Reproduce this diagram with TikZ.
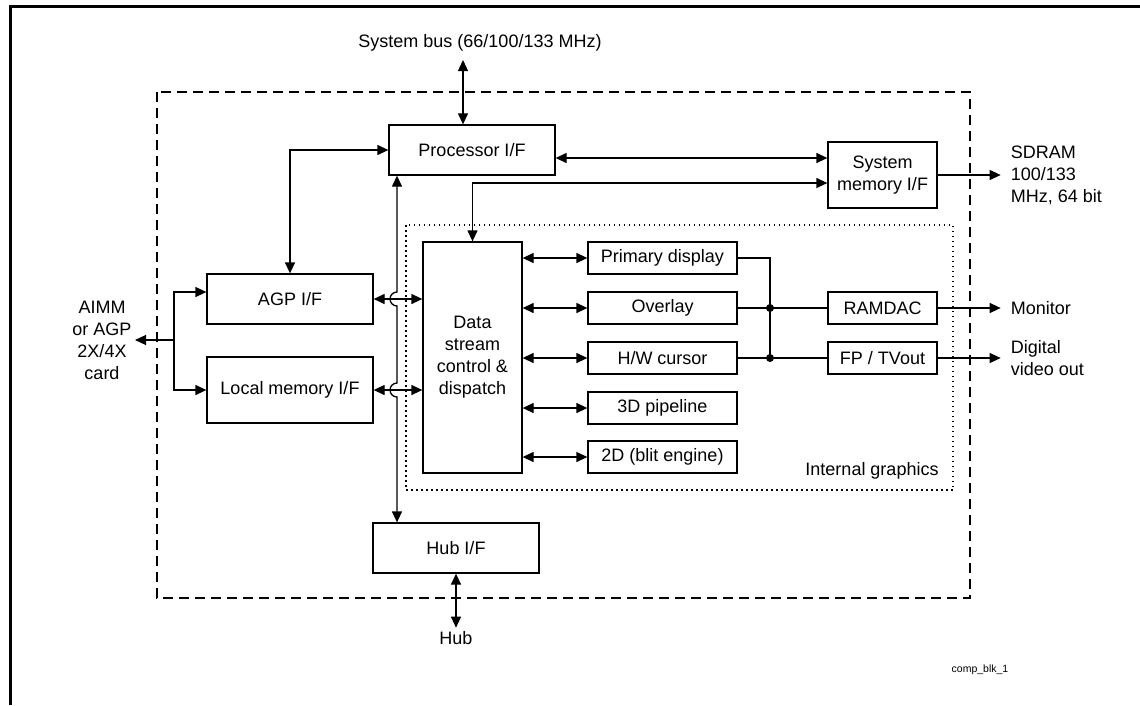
\documentclass[tikz,border=0pt]{standalone}
\usepackage{fontspec}
\setmainfont{Liberation Sans}
\usetikzlibrary{calc}
\usetikzlibrary{positioning}
\usetikzlibrary{arrows.meta}

\begin{document}
\begin{tikzpicture}
    [%
        x=1pt,%
        y=-1pt,%
        font=\fontsize{18}{22}\selectfont,%
        >={Triangle[length=11pt,width=10pt]},%
        block/.style={%
            draw,%
            line width=1.3pt,%
            inner sep=0pt,%
            align=center%
        },%
        link/.style={%
            line width=1.3pt%
        },%
        junction/.style={%
            circle,%
            fill,%
            inner sep=0pt,%
            minimum size=8pt%
        },%
        port label/.style={%
            align=left,%
            inner xsep=10pt%
        }%
    ]%
%
    \useasboundingbox (0,0) rectangle (1140,705);
    \draw[line width=3pt] (10,705) -- (10,6) -- (1140,6);% page frame
    \draw[line width=1.3pt,dash pattern=on 10pt off 6pt] (157,92) rectangle (970,598);% chip
    \draw[line width=1.3pt,dash pattern=on 1.5pt off 3.5pt] (406,225) rectangle (953,490);% graphics core
    \node[anchor=base] (graphics-label) at (872,475) {Internal graphics};
%
    \node[block,minimum width=166pt,minimum height=50pt] (processor) at (472,150) {Processor I/F};
    \node[block,minimum width=109pt,minimum height=66pt] (sysmem) at (882.5,175) {System\\memory I/F};
    \node[block,minimum width=166pt,minimum height=50pt] (agp) at (290,299) {AGP I/F};
    \node[block,minimum width=166pt,minimum height=66pt] (localmem) at (290,390) {Local memory I/F};
    \node[block,minimum width=99pt,minimum height=231pt] (dispatch) at (472.5,357.5) {Data\\stream\\control \&\\dispatch};
    \node[block,minimum width=166pt,minimum height=50pt] (hub) at (456,548) {Hub I/F};
    \node[block,minimum width=109pt,minimum height=32pt] (ramdac) at (882.5,308) {RAMDAC};
    \node[block,minimum width=109pt,minimum height=32pt] (fptv) at (882.5,358) {FP / TVout};
%
    \foreach \name/\text/\y in {%
        primary/Primary display/258,%
        overlay/Overlay/308,%
        cursor/{H/W cursor}/358,%
        pipeline/3D pipeline/408,%
        blit/2D (blit engine)/457%
    }{%
        \node[block,minimum width=149pt,minimum height=32pt] (\name) at (662.5,\y) {\text};
        \draw[link,<->] (\name.west -| dispatch.east) -- (\name.west);
    }
%
    % outside world
    \node (sysbus-label) at (480,43) {System bus (66/100/133 MHz)};
    \coordinate (sysbus-end) at (463,60);
    \draw[link,<->] (sysbus-end) -- (sysbus-end |- processor.north);
    \node[port label,right=63pt of sysmem] (sdram) {SDRAM\\100/133\\MHz, 64 bit};
    \draw[link,->] (sysmem.east) -- (sdram.west);
    \node[port label,right=63pt of ramdac] (monitor) {Monitor};
    \draw[link,->] (ramdac.east) -- (monitor.west);
    \node[port label,right=63pt of fptv] (digital) {Digital\\video out};
    \draw[link,->] (fptv.east) -- (digital.west);
    \node[below=54pt of hub] (hub-label) {Hub};
    \draw[link,<->] (hub.south) -- (hub-label.north);
    \node[align=center] (card) at (102,340) {AIMM\\or AGP\\2X/4X\\card};
    \coordinate (card-split) at (174,340);
    \draw[link,->] (card-split) -- (card.east);
    \draw[link,->] (card-split) |- ([yshift=7pt]agp.west);
    \draw[link,->] (card-split) |- (localmem.west);
%
    % internal buses
    \coordinate (proc-mem) at ([yshift=-8pt]processor.east);
    \draw[link,<->] (proc-mem) -- (proc-mem -| sysmem.west);
    \draw[link,<->] (dispatch.north) |- ([yshift=-8pt]sysmem.west);
    \draw[link,<->] (agp.north) |- (processor.west);
    \draw[link,<->] (agp.east) -- (agp.east -| dispatch.west);
    \draw[link,<->] (localmem.east) -- (localmem.east -| dispatch.west);
    \coordinate (bus-top) at ([xshift=-75pt]processor.south);
    \draw[link,<->] (bus-top)
        -- ($(bus-top |- agp.east)+(0,-7)$) arc[start angle=90,end angle=270,radius=7pt]
        -- ($(bus-top |- localmem.east)+(0,-7)$) arc[start angle=90,end angle=270,radius=7pt]
        -- (bus-top |- hub.north);
%
    % display outputs
    \node[junction] (overlay-dot) at (770,308) {};
    \node[junction] (cursor-dot) at (770,358) {};
    \draw[link] (primary.east) -| (cursor-dot.center);
    \draw[link] (overlay.east) -- (ramdac.west);
    \draw[link] (cursor.east) -- (fptv.west);
%
    \node[font=\fontsize{10.5}{12}\selectfont] (figure-id) at (980,670) {comp\_blk\_1};
\end{tikzpicture}
\end{document}
